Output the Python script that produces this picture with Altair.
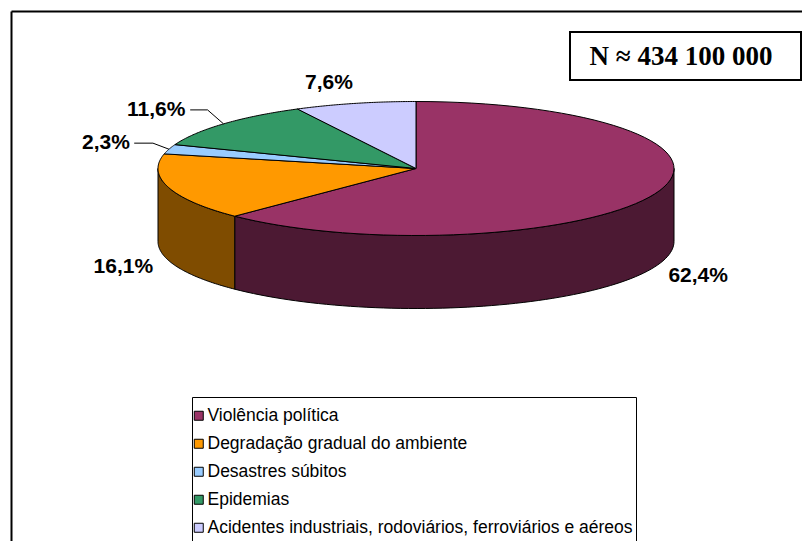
import altair as alt
import pandas as pd

# ---- data ----
categories = [
    "Violência política",
    "Degradação gradual do ambiente",
    "Desastres súbitos",
    "Epidemias",
    "Acidentes industriais, rodoviários, ferroviários e aéreos",
]
percent = [62.4, 16.1, 2.3, 11.6, 7.6]
top_colors = ["#993366", "#FF9900", "#99CCFF", "#339966", "#CCCCFF"]
side_colors = ["#4C1933", "#7F4C00", "#4C6680", "#194C33", "#666680"]
n_label = "N ≈ 434 100 000"

# ---- layout constants (chart pixel coordinates) ----
W, H = 794, 533
CX, CY = 408, 160.5       # centre of the top ellipse
RX, RY = 258, 67          # ellipse radii
DEPTH = 73                # thickness of the 3D pie
N = 72                    # points per arc

df = pd.DataFrame({"cat": categories, "pct": percent, "idx": list(range(len(categories)))})

xs = alt.Scale(domain=[0, W], nice=False, zero=False)
ys = alt.Scale(domain=[0, H], nice=False, zero=False, reverse=True)

color_scale = alt.Scale(
    domain=categories + ["wall " + c for c in categories],
    range=top_colors + side_colors,
)
legend = alt.Legend(
    values=categories, title=None, orient="none", legendX=182, legendY=399,
    symbolType="square", symbolSize=81, symbolStrokeColor="black", symbolStrokeWidth=1,
    labelFont="Liberation Sans", labelFontSize=17.5, labelColor="black", labelOffset=0,
    rowPadding=9, padding=0, labelLimit=700,
)

base = (
    alt.Chart(df)
    .transform_window(cum="sum(pct)", sort=[alt.SortField("idx")], frame=[None, 0])
    .transform_joinaggregate(total="sum(pct)")
    .transform_calculate(
        a0="2*PI*(datum.cum - datum.pct)/datum.total",
        a1="2*PI*datum.cum/datum.total",
    )
)

# front walls
wall = (
    base.transform_calculate(b0="max(datum.a0, PI/2)", b1="min(datum.a1, 3*PI/2)",
                             wcat="'wall ' + datum.cat")
    .transform_filter("datum.b1 > datum.b0")
    .transform_calculate(s=f"sequence(0, {2*N+3})")
    .transform_flatten(["s"])
    .transform_calculate(
        t=f"datum.s <= {N} ? datum.s : (datum.s <= {2*N+1} ? {2*N+1} - datum.s : 0)",
    )
    .transform_calculate(ang=f"datum.b0 + (datum.b1 - datum.b0) * datum.t / {N}")
    .transform_calculate(
        px=f"{CX} + {RX} * sin(datum.ang)",
        py=f"{CY} - {RY} * cos(datum.ang) + ((datum.s > {N} && datum.s <= {2*N+1}) ? {DEPTH} : 0)",
    )
    .mark_line(filled=True, stroke="black", strokeWidth=1, strokeJoin="round")
    .encode(
        x=alt.X("px:Q", scale=xs, axis=None),
        y=alt.Y("py:Q", scale=ys, axis=None),
        order="s:Q",
        color=alt.Color("wcat:N", scale=color_scale, legend=legend),
    )
)

# top faces
top = (
    base.transform_calculate(s=f"sequence(0, {N+3})")
    .transform_flatten(["s"])
    .transform_calculate(t=f"datum.s <= {N} ? datum.s : 0")
    .transform_calculate(ang=f"datum.a0 + (datum.a1 - datum.a0) * datum.t / {N}")
    .transform_calculate(
        px=f"datum.s == {N+1} ? {CX} : {CX} + {RX} * sin(datum.ang)",
        py=f"datum.s == {N+1} ? {CY} : {CY} - {RY} * cos(datum.ang)",
    )
    .mark_line(filled=True, stroke="black", strokeWidth=1, strokeJoin="round")
    .encode(
        x=alt.X("px:Q", scale=xs, axis=None),
        y=alt.Y("py:Q", scale=ys, axis=None),
        order="s:Q",
        color=alt.Color("cat:N", scale=color_scale, legend=legend),
    )
)

# label positions derived from the slice mid-angles
lab_base = base.transform_calculate(mid="(datum.a0 + datum.a1)/2").transform_calculate(
    c="cos(datum.mid)", sn="sin(datum.mid)"
).transform_calculate(
    lx=f"{CX} + (305 + 65*max(datum.c, 0)) * datum.sn",
    ly=f"{CY} - 88*datum.c + (datum.c < 0 ? 74 : 0)",
    ex=f"{CX} + {RX} * datum.sn",
    ey=f"{CY} - {RY} * datum.c",
    txt="replace(format(datum.pct, '.1f'), '.', ',') + '%'",
)

labels = lab_base.mark_text(
    font="Liberation Sans", fontWeight="bold", fontSize=21, color="black", baseline="middle"
).encode(
    x=alt.X("lx:Q", scale=xs, axis=None),
    y=alt.Y("ly:Q", scale=ys, axis=None),
    text="txt:N",
)

lead = lab_base.transform_filter("datum.c > 0 && abs(datum.lx - datum.ex) > 40").transform_calculate(
    x0="datum.lx + length(datum.txt)*5.8 + 5", xe="datum.ex - 16"
)
lead1 = lead.mark_rule(color="black", strokeWidth=1).encode(
    x=alt.X("x0:Q", scale=xs, axis=None), x2="xe:Q",
    y=alt.Y("ly:Q", scale=ys, axis=None), y2="ly:Q",
)
lead2 = lead.mark_rule(color="black", strokeWidth=1).encode(
    x=alt.X("xe:Q", scale=xs, axis=None), x2="ex:Q",
    y=alt.Y("ly:Q", scale=ys, axis=None), y2="ey:Q",
)

dummy = alt.Data(values=[{}])
border_left = alt.Chart(dummy).mark_rule(color="black", strokeWidth=2).encode(
    x=alt.value(3.5), y=alt.value(3.5), y2=alt.value(H)
)
border_top = alt.Chart(dummy).mark_rule(color="black", strokeWidth=2).encode(
    x=alt.value(3.5), x2=alt.value(W), y=alt.value(3.5)
)
legend_box = alt.Chart(dummy).mark_rect(fill="white", stroke="black", strokeWidth=1).encode(
    x=alt.value(184.5), x2=alt.value(628.5), y=alt.value(389.5), y2=alt.value(H + 20)
)
n_box = alt.Chart(dummy).mark_rect(fill="white", stroke="black", strokeWidth=2).encode(
    x=alt.value(562), x2=alt.value(W - 1), y=alt.value(24), y2=alt.value(72)
)
n_text = alt.Chart(dummy).mark_text(
    font="Liberation Serif", fontWeight="bold", fontSize=27, color="black", baseline="middle"
).encode(x=alt.value(673), y=alt.value(49), text=alt.value(n_label))

chart = (
    alt.layer(border_left, border_top, legend_box, n_box, n_text, wall, top, labels, lead1, lead2)
    .properties(width=W, height=H, padding=0, autosize=alt.AutoSizeParams(type="none"),
                background="white")
    .configure_view(stroke=None)
)

chart.save("out.html", embed_options={"renderer": "svg", "actions": False})
